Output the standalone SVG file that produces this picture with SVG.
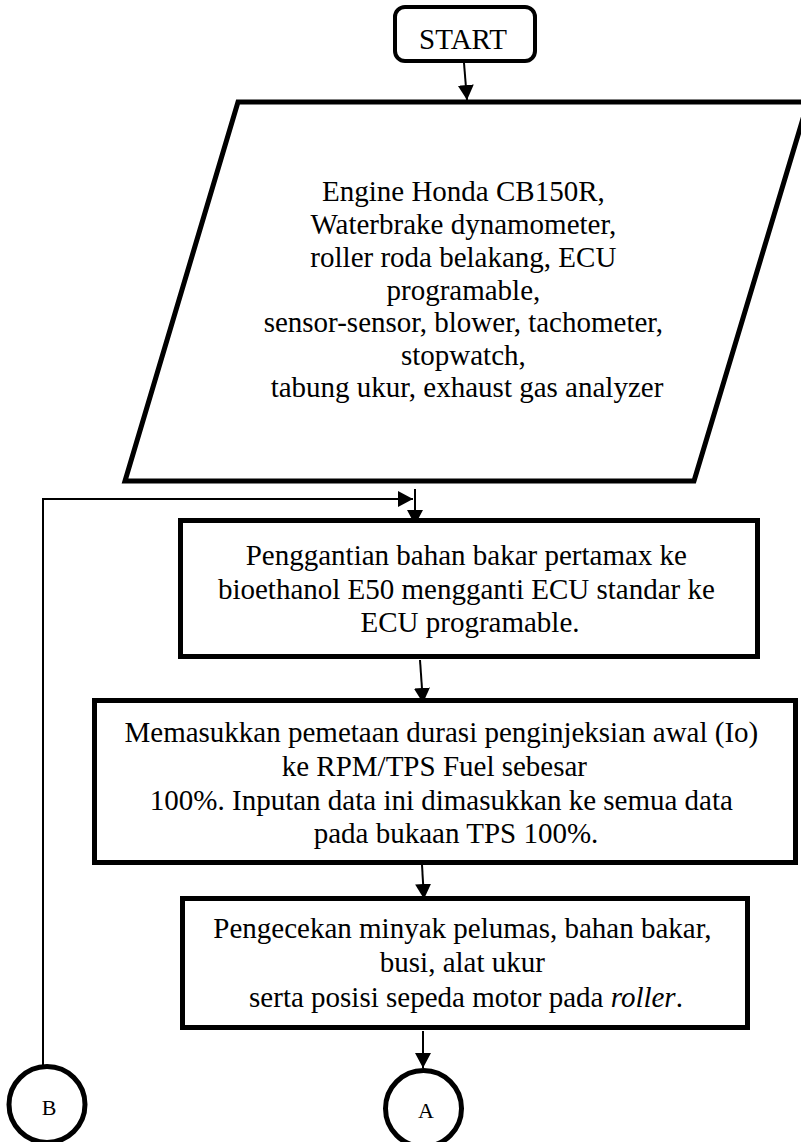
<svg xmlns="http://www.w3.org/2000/svg" width="801" height="1142" viewBox="0 0 801 1142">
  <style>
    .shape { fill: #ffffff; stroke: #000000; stroke-width: 5; stroke-linejoin: miter; }
    .label { font-family: "Liberation Serif", "Times New Roman", serif; font-size: 29px; fill: #000000; text-anchor: middle; }
    .small { font-size: 22px; }
    .wire { fill: none; stroke: #000000; stroke-width: 2; }
  </style>
  <defs>
    <marker id="arrow" markerUnits="userSpaceOnUse" markerWidth="15" markerHeight="16" refX="15" refY="8" orient="auto">
      <path d="M0,0 L15,8 L0,16 Z" fill="#000000"/>
    </marker>
  </defs>
  <rect width="801" height="1142" fill="#ffffff"/>

  <!-- connectors -->
  <g id="connectors">
    <line class="wire" x1="464" y1="63" x2="467" y2="100" marker-end="url(#arrow)"/>
    <polyline class="wire" points="43,1065 43,499 413,499" marker-end="url(#arrow)"/>
    <line class="wire" x1="415" y1="489" x2="415" y2="525" marker-end="url(#arrow)"/>
    <line class="wire" x1="420" y1="660" x2="423" y2="703" marker-end="url(#arrow)"/>
    <line class="wire" x1="422" y1="865" x2="424" y2="899" marker-end="url(#arrow)"/>
    <line class="wire" x1="423" y1="1031" x2="423" y2="1068" marker-end="url(#arrow)"/>
  </g>

  <!-- terminator -->
  <g id="start">
    <rect class="shape" x="395" y="7" width="140" height="54" rx="10" ry="10" style="stroke-width:4"/>
    <text class="label" x="463" y="49">START</text>
  </g>

  <!-- equipment input -->
  <g id="equipment">
    <polygon class="shape" points="238,102 808,102 694,481 125,481"/>
    <text class="label">
      <tspan x="467" y="201">Engine Honda CB150R,</tspan>
      <tspan x="467" y="234">Waterbrake dynamometer,</tspan>
      <tspan x="467" y="267">roller roda belakang, ECU</tspan>
      <tspan x="467" y="300">programable,</tspan>
      <tspan x="467" y="332">sensor-sensor, blower, tachometer,</tspan>
      <tspan x="467" y="365">stopwatch,</tspan>
      <tspan x="467" y="397">tabung ukur, exhaust gas analyzer</tspan>
    </text>
  </g>

  <!-- fuel and ECU change -->
  <g id="fuel-change">
    <rect class="shape" x="180.5" y="520.5" width="577" height="136"/>
    <text class="label">
      <tspan x="470" y="565">Penggantian bahan bakar pertamax ke</tspan>
      <tspan x="470" y="598.5">bioethanol E50 mengganti ECU standar ke</tspan>
      <tspan x="470" y="632">ECU programable.</tspan>
    </text>
  </g>

  <!-- initial injection map -->
  <g id="injection-map">
    <rect class="shape" x="94.5" y="700.5" width="701" height="162"/>
    <text class="label">
      <tspan x="445" y="742">Memasukkan pemetaan durasi penginjeksian awal (Io)</tspan>
      <tspan x="438" y="775.5">ke RPM/TPS Fuel sebesar</tspan>
      <tspan x="445" y="809.5">100%. Inputan data ini dimasukkan ke semua data</tspan>
      <tspan x="456" y="843">pada bukaan TPS 100%.</tspan>
    </text>
  </g>

  <!-- pre-run checks -->
  <g id="checks">
    <rect class="shape" x="182.5" y="898.5" width="565" height="129"/>
    <text class="label">
      <tspan x="466" y="938">Pengecekan minyak pelumas, bahan bakar,</tspan>
      <tspan x="466" y="972">busi, alat ukur</tspan>
      <tspan x="466" y="1006.5">serta posisi sepeda motor pada <tspan font-style="italic">roller</tspan>.</tspan>
    </text>
  </g>

  <!-- off-page connectors -->
  <g id="connector-a">
    <circle class="shape" cx="423.5" cy="1108.5" r="38"/>
    <text class="label small" x="426" y="1118">A</text>
  </g>
  <g id="connector-b">
    <circle class="shape" cx="47" cy="1104.5" r="38"/>
    <text class="label small" x="49" y="1115">B</text>
  </g>
</svg>
